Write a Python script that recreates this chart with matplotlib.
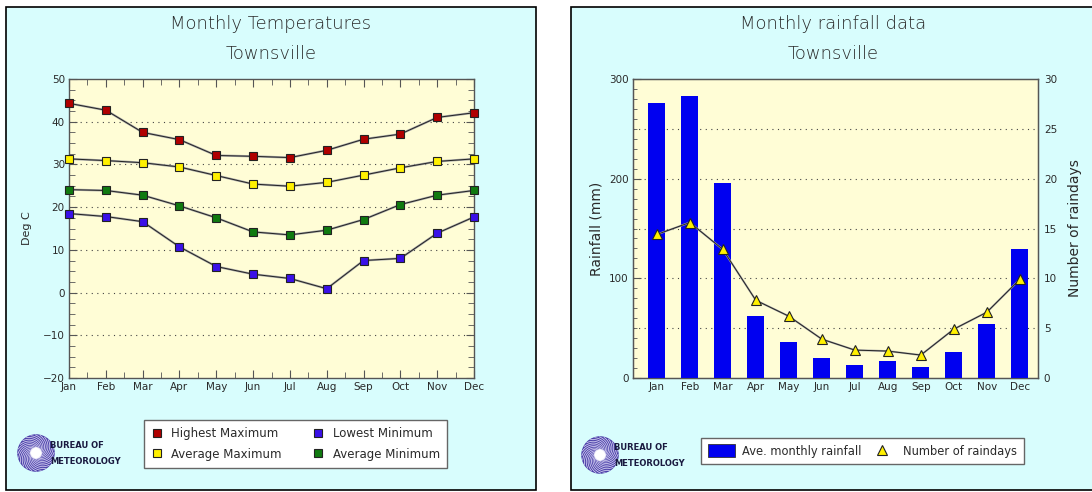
import numpy as np
import matplotlib
matplotlib.use("Agg")
import matplotlib.pyplot as plt
from matplotlib.patches import Rectangle, Circle
from matplotlib.lines import Line2D

# data
months = ["Jan", "Feb", "Mar", "Apr", "May", "Jun", "Jul", "Aug", "Sep", "Oct", "Nov", "Dec"]
highest_max = [44.3, 42.7, 37.5, 35.8, 32.1, 31.9, 31.6, 33.3, 35.9, 37.1, 41.0, 42.1]
average_max = [31.3, 30.9, 30.4, 29.4, 27.4, 25.4, 24.9, 25.8, 27.5, 29.2, 30.7, 31.3]
average_min = [24.1, 23.9, 22.8, 20.3, 17.5, 14.2, 13.5, 14.6, 17.1, 20.6, 22.8, 23.9]
lowest_min = [18.5, 17.8, 16.6, 10.7, 6.1, 4.3, 3.3, 0.9, 7.5, 8.0, 13.9, 17.7]
rainfall = [276, 283, 196, 62, 36, 20, 13, 17, 11, 26, 54, 129]
raindays = [14.4, 15.6, 12.9, 7.8, 6.2, 3.9, 2.8, 2.7, 2.3, 4.9, 6.6, 9.9]

W, H = 1092, 492
panel_col = "#d8fdfd"
plot_col = "#fffdd6"
txt_col = "#2a2a2a"
grid_ls = (0, (1, 4))

plt.rcParams['font.family'] = ['DejaVu Sans']

fig = plt.figure(figsize=(W / 100, H / 100), dpi=100)
fig.patch.set_facecolor("white")

# panel backgrounds
fig.add_artist(Rectangle((6 / W, 2 / H), 530 / W, 483 / H, transform=fig.transFigure,
                         facecolor=panel_col, edgecolor="black", lw=1.2, zorder=-10))
fig.add_artist(Rectangle((571 / W, 2 / H), 530 / W, 483 / H, transform=fig.transFigure,
                         facecolor=panel_col, edgecolor="black", lw=1.2, zorder=-10))


def fx(px):
    return px / W


def fy(py):
    return 1 - py / H


def style_frame(ax):
    ax.set_facecolor(plot_col)
    for s in ax.spines.values():
        s.set_color("#555555")
        s.set_linewidth(1.0)


def logo(cx, cy):
    lax = fig.add_axes([fx(cx - 19), fy(cy + 19), 38 / W, 38 / H])
    lax.set_xlim(-1, 1)
    lax.set_ylim(-1, 1)
    lax.set_aspect("equal")
    lax.axis("off")
    lax.add_patch(Circle((0, 0), 0.95, color="#4a3fa8"))
    t = np.linspace(0, 1, 40)
    for k in range(24):
        a0 = 2 * np.pi * k / 24
        r = 0.3 + 0.65 * t
        a = a0 + 1.6 * t
        lax.plot(r * np.cos(a), r * np.sin(a), color="#d0ccf0", lw=0.6)
    lax.add_patch(Circle((0, 0), 0.28, color="white"))
    fig.text(fx(cx + 14), fy(cy - 8), "BUREAU OF", fontsize=6, fontweight="bold",
             color="#1a1a40", va="center")
    fig.text(fx(cx + 14), fy(cy + 8), "METEOROLOGY", fontsize=6, fontweight="bold",
             color="#1a1a40", va="center")


# ---------------- left: temperatures ----------------
x = np.arange(len(months))
ax1 = fig.add_axes([fx(69), fy(378), 405 / W, 299 / H])
style_frame(ax1)
series = [
    (highest_max, "#b00000", "Highest Maximum"),
    (average_max, "#fff000", "Average Maximum"),
    (lowest_min, "#3a10e8", "Lowest Minimum"),
    (average_min, "#107a10", "Average Minimum"),
]
handles = []
for vals, col, lab in series:
    ax1.plot(x, vals, color="#a8a8a8", lw=1.6, zorder=2, clip_on=False)
    ax1.plot(x, vals, color="#222222", lw=0.7, zorder=3, clip_on=False)
    ax1.plot(x, vals, ls="none", marker="s", ms=5.5, mfc=col, mec="#222222", mew=0.8,
             zorder=4, clip_on=False)
    handles.append(Line2D([], [], ls="none", marker="s", ms=6, mfc=col, mec="#222222",
                          mew=0.8, label=lab))
ax1.set_xlim(0, 11)
ax1.set_ylim(-20, 50)
ax1.set_xticks(x)
ax1.set_xticklabels(months)
ax1.set_xticks(np.arange(0, 11.01, 0.5), minor=True)
ax1.set_yticks(np.arange(-20, 51, 10))
ax1.set_yticklabels([str(v).replace("-", "\u2212") for v in range(-20, 51, 10)])
ax1.set_yticks(np.arange(-20, 50.1, 2.5), minor=True)
ax1.tick_params(which="both", direction="in", top=True, right=True, color="#555555",
                labelsize=7.5, labelcolor=txt_col)
ax1.tick_params(which="major", length=6, pad=3)
ax1.tick_params(which="minor", length=4)
for g in range(-10, 41, 10):
    ax1.axhline(g, color="#444444", lw=0.8, ls=grid_ls, zorder=1)
ax1.set_ylabel("Deg C", fontsize=8, color=txt_col, labelpad=8)

fig.text(fx(271), fy(24), "Monthly Temperatures", ha="center", va="center",
         fontsize=13, color=txt_col, fontweight="light")
fig.text(fx(271), fy(54), "Townsville", ha="center", va="center",
         fontsize=13, color=txt_col, fontweight="light")

leg1 = fig.legend(handles=handles, ncol=2, loc="center", bbox_to_anchor=(fx(295.5), fy(444)),
                  fontsize=8.5, frameon=True, fancybox=False, edgecolor="#666666",
                  framealpha=1, handletextpad=0.7, columnspacing=2.6, labelspacing=0.6,
                  handlelength=1.0, borderpad=0.6, borderaxespad=0)
for t in leg1.get_texts():
    t.set_color(txt_col)
logo(36, 453)

# ---------------- right: rainfall ----------------
ax2 = fig.add_axes([fx(632.7), fy(378), 405.6 / W, 299 / H])
style_frame(ax2)
ax2.bar(x, rainfall, width=0.52, color="#0000f0", zorder=3)
ax2.set_xlim(-0.73, 11.56)
ax2.set_ylim(0, 300)
ax2.set_xticks(x)
ax2.set_xticklabels(months)
ax2.set_yticks([0, 100, 200, 300])
ax2.set_yticks(np.arange(0, 301, 10), minor=True)
ax2.tick_params(which="both", direction="in", color="#555555", labelsize=7.5,
                labelcolor=txt_col)
ax2.tick_params(which="major", length=6, pad=3)
ax2.tick_params(which="minor", length=3)
ax2.tick_params(axis="x", length=4)
for g in range(50, 251, 50):
    ax2.axhline(g, color="#444444", lw=0.8, ls=grid_ls, zorder=1)
ax2.set_ylabel("Rainfall (mm)", fontsize=10, color=txt_col, labelpad=4)

ax3 = ax2.twinx()
ax3.plot(x, raindays, color="#a8a8a8", lw=1.4, zorder=3)
ax3.plot(x, raindays, color="#222222", lw=0.7, zorder=4)
ax3.plot(x, raindays, ls="none", marker="^", ms=7, mfc="#fff000", mec="#222222",
         mew=0.8, zorder=5)
ax3.set_ylim(0, 30)
ax3.set_yticks(range(0, 31, 5))
ax3.tick_params(length=0, pad=4, labelsize=7.5, labelcolor=txt_col)
for s in ax3.spines.values():
    s.set_color("#555555")
ax3.set_ylabel("Number of raindays", fontsize=10, color=txt_col, labelpad=8)

fig.text(fx(833), fy(24), "Monthly rainfall data", ha="center", va="center",
         fontsize=13, color=txt_col, fontweight="light")
fig.text(fx(833), fy(54), "Townsville", ha="center", va="center",
         fontsize=13, color=txt_col, fontweight="light")

h2 = [Rectangle((0, 0), 1, 1, facecolor="#0000f0", edgecolor="#333333", lw=0.6,
                label="Ave. monthly rainfall"),
      Line2D([], [], ls="none", marker="^", ms=7, mfc="#fff000", mec="#222222", mew=0.8,
             label="Number of raindays")]
leg2 = fig.legend(handles=h2, ncol=2, loc="center", bbox_to_anchor=(fx(862.5), fy(451)),
                  fontsize=8.3, frameon=True, fancybox=False, edgecolor="#666666",
                  framealpha=1, handletextpad=0.6, columnspacing=0.6, handlelength=2.4,
                  handleheight=1.3, borderpad=0.6, borderaxespad=0)
for t in leg2.get_texts():
    t.set_color(txt_col)
logo(600, 455)

fig.savefig("out.png", dpi=100, facecolor=fig.get_facecolor())
